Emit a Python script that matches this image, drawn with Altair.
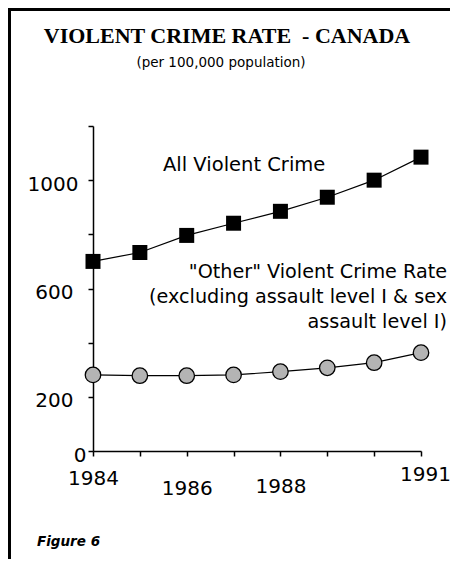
import altair as alt
import pandas as pd

years = [1984, 1985, 1986, 1987, 1988, 1989, 1990, 1991]
all_violent = [700, 733, 796, 841, 885, 937, 1000, 1085]
other_violent = [281, 278, 278, 281, 293, 307, 326, 363]

x_ticks = [1984, 1985, 1986, 1987, 1988, 1989, 1990, 1991]
x_labels_shown = [1984, 1986, 1988, 1991]
y_ticks = [0, 200, 400, 600, 800, 1000, 1200]
y_labels_shown = [0, 200, 600, 1000]

title_text = "VIOLENT CRIME RATE\u00a0 - CANADA"
subtitle_text = "(per 100,000 population)"
ann_all = "All Violent Crime"
ann_other = ['"Other" Violent Crime Rate', "(excluding assault level I & sex", "assault level I)"]
figure_text = "Figure 6"

df_all = pd.DataFrame({"year": years, "rate": all_violent})
df_other = pd.DataFrame({"year": years, "rate": other_violent})

W, H = 328, 325
SANS = "DejaVu Sans"

x_show = " || ".join(f"datum.value == {v}" for v in x_labels_shown)
y_show = " || ".join(f"datum.value == {v}" for v in y_labels_shown)

x_enc = alt.X(
    "year:Q",
    scale=alt.Scale(domain=[1984, 1991], nice=False, zero=False),
    axis=alt.Axis(
        values=x_ticks,
        labelExpr=f"({x_show}) ? datum.label : ''",
        format="d",
        title=None,
        grid=False,
        domainColor="black",
        domainWidth=1.5,
        tickColor="black",
        tickWidth=1.5,
        tickSize=5,
        labelFont=SANS,
        labelFontSize=20,
        labelColor="black",
        labelBaseline="top",
        labelFlush=False,
        labelOverlap=False,
        labelBound=False,
        labelPadding={
            "condition": [
                {"test": "datum.value == 1986", "value": 22},
                {"test": "datum.value == 1988", "value": 20},
                {"test": "datum.value == 1991", "value": 8},
            ],
            "value": 12,
        },
        labelOffset={"condition": {"test": "datum.value == 1991", "value": 4}, "value": 0},
    ),
)

y_enc = alt.Y(
    "rate:Q",
    scale=alt.Scale(domain=[0, 1200], nice=False),
    axis=alt.Axis(
        values=y_ticks,
        labelExpr=f"({y_show}) ? datum.label : ''",
        format="d",
        title=None,
        grid=False,
        domainColor="black",
        domainWidth=1.5,
        tickColor="black",
        tickWidth=1.5,
        tickSize=5,
        labelFont=SANS,
        labelFontSize=20,
        labelColor="black",
        labelOverlap=False,
        labelFlush=False,
        labelOffset=4,
        labelPadding={
            "condition": [
                {"test": "datum.value == 0", "value": 2},
                {"test": "datum.value == 1000", "value": 10},
            ],
            "value": 15,
        },
    ),
)

line_all = alt.Chart(df_all).mark_line(color="black", strokeWidth=1.2).encode(x=x_enc, y=y_enc)
pts_all = alt.Chart(df_all).mark_point(
    shape="square", filled=True, color="black", size=225, opacity=1
).encode(x="year:Q", y="rate:Q")

line_other = alt.Chart(df_other).mark_line(color="black", strokeWidth=1.2).encode(x="year:Q", y="rate:Q")
pts_other = alt.Chart(df_other).mark_point(
    shape="circle", filled=True, fill="#b4b4b4", stroke="black", strokeWidth=1.3, size=240, opacity=1
).encode(x="year:Q", y="rate:Q")


def label(text, x, y, align="left", size=19.5, font=SANS, weight="normal", style="normal"):
    return alt.Chart(pd.DataFrame({"t": [text]})).mark_text(
        align=align, baseline="middle", font=font, fontSize=size,
        fontWeight=weight, fontStyle=style, color="black"
    ).encode(text="t:N", x=alt.value(x), y=alt.value(y))


texts = [
    label(title_text, 134, -90, align="center", size=22, font="Liberation Serif", weight="bold"),
    label(subtitle_text, 128, -63, align="center", size=13.5),
    label(ann_all, 70, 39),
    label(ann_other[0], 354, 146, align="right", size=19.2),
    label(ann_other[1], 354, 171, align="right", size=19.2),
    label(ann_other[2], 354, 196, align="right", size=19.2),
    label(figure_text, -56, 416, size=13.5, weight="bold", style="italic"),
]

frame_top = alt.Chart(pd.DataFrame({"a": [0]})).mark_rule(color="black", strokeWidth=3).encode(
    x=alt.value(-85), x2=alt.value(357), y=alt.value(-116.5)
)
frame_left = alt.Chart(pd.DataFrame({"a": [0]})).mark_rule(color="black", strokeWidth=3).encode(
    x=alt.value(-83.5), y=alt.value(-118), y2=alt.value(433)
)

chart = alt.layer(
    line_all, line_other, pts_all, pts_other, frame_top, frame_left, *texts
).properties(
    width=W,
    height=H,
    autosize=alt.AutoSizeParams(type="none"),
    padding={"left": 85, "top": 118, "right": 29, "bottom": 108},
    background="white",
).configure_view(stroke=None)

chart.save("out.html", embed_options={"renderer": "svg", "actions": False})
